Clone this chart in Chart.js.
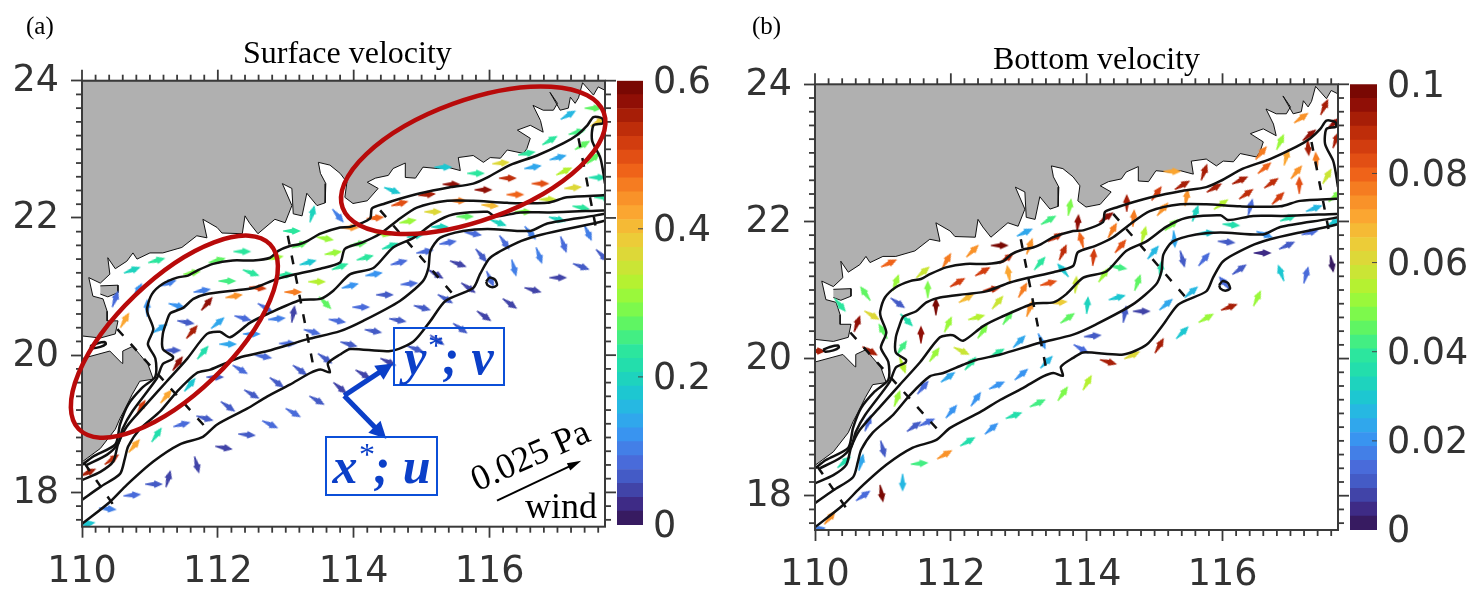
<!DOCTYPE html>
<html>
<head>
<meta charset="utf-8">
<title>Surface and bottom velocity</title>
<script src="https://cdn.jsdelivr.net/npm/chart.js@4"></script>
<style>
  body { margin: 0; background: #fff; width: 1468px; height: 593px; overflow: hidden; position: relative; }
  canvas { position: absolute; top: 0; }
  .txt { position: absolute; font-family: "Liberation Serif", serif; color: #000; white-space: nowrap; line-height: 1; }
  .box { position: absolute; border: 2px solid #0b4fd8; box-sizing: border-box; font-family: "Liberation Serif", serif; color: #0b3fc8;
         font-size: 50px; font-weight: bold; font-style: italic; text-align: center; white-space: nowrap; }
  .box sup { font-size: 32px; font-weight: normal; line-height: 0; }
</style>
</head>
<body>
<canvas id="panel-a" width="616" height="593" style="left:0"></canvas>
<canvas id="bar-a" width="116" height="593" style="left:612px"></canvas>
<canvas id="panel-b" width="616" height="593" style="left:733px"></canvas>
<canvas id="bar-b" width="123" height="593" style="left:1345px"></canvas>

<div class="txt" style="left:26px;top:13px;font-size:25px">(a)</div>
<div class="txt" style="left:752px;top:13px;font-size:25px">(b)</div>
<div class="txt" style="left:243px;top:36px;font-size:32px">Surface velocity</div>
<div class="txt" style="left:993px;top:42px;font-size:32px">Bottom velocity</div>
<div class="box" style="left:393px;top:327px;width:112px;height:59px;line-height:56px"><span>y</span><sup>*</sup>; v</div>
<div class="box" style="left:325px;top:436px;width:113px;height:60px;line-height:56px"><span>x</span><sup>*</sup>; u</div>
<div class="txt" style="left:530px;top:455px;font-size:36px;transform:translate(-50%,-50%) rotate(-24deg)">0.025 Pa</div>
<div class="txt" style="left:525px;top:488px;font-size:36px">wind</div>

<script>
// axes
const xTicks = [110, 112, 114, 116];
const yTicks = [18, 20, 22, 24];
const xRange = [110, 117.7];
const yRange = [17.5, 24];
const surfaceBarTicks = [0, 0.2, 0.4, 0.6];
const bottomBarTicks = [0, 0.02, 0.04, 0.06, 0.08, 0.1];

// land outline [lon, lat]
const mainland = [[110,24],[117.7,24],[117.7,23.86],[117.6,23.91],[117.53,23.79],[117.37,23.97],[117.31,23.75],[117.26,23.67],[117.19,23.76],[117.16,23.6],[117.04,23.57],[116.89,23.83],[117,23.67],[116.94,23.57],[116.79,23.57],[116.64,23.64],[116.75,23.42],[116.79,23.25],[116.6,23.35],[116.41,23.28],[116.6,23.16],[116.55,23.01],[116.5,22.94],[116.26,22.99],[116.16,22.87],[116.01,22.88],[115.91,22.81],[115.76,22.91],[115.54,22.88],[115.57,22.69],[115.38,22.74],[115.23,22.72],[115.02,22.74],[114.91,22.58],[114.76,22.59],[114.76,22.8],[114.58,22.72],[114.51,22.62],[114.32,22.58],[114.2,22.52],[114.36,22.43],[114.2,22.25],[113.99,22.21],[113.87,22.3],[113.9,22.52],[113.8,22.65],[113.65,22.77],[113.48,22.81],[113.51,22.65],[113.59,22.5],[113.58,22.22],[113.46,22.18],[113.31,22.36],[113.24,22.03],[113.11,22.06],[113.09,22.43],[112.95,22.5],[113.09,22.18],[112.99,21.93],[112.84,21.98],[112.59,21.77],[112.47,21.92],[112.4,22.03],[112.36,21.77],[112.06,21.78],[111.99,21.86],[111.78,21.98],[111.84,21.71],[111.69,21.74],[111.47,21.57],[111.4,21.55],[111.19,21.49],[111,21.49],[110.81,21.4],[110.75,21.49],[110.66,21.37],[110.49,21.26],[110.38,21.42],[110.41,21.18],[110.27,21.05],[110.1,21.13],[110.16,20.86],[110.31,20.82],[110.37,20.64],[110.37,20.5],[110.53,20.5],[110.49,20.31],[110.27,20.25],[110,20.28]];
const hainan = [[110,19.95],[110.41,20.06],[110.59,19.88],[110.6,20.06],[110.75,20.13],[110.85,20.01],[110.97,19.87],[111.05,19.65],[110.85,19.62],[110.74,19.43],[110.63,19.21],[110.56,19.08],[110.49,18.92],[110.27,18.64],[110.01,18.45],[110,18.4]];
const islet = [[110.27,21.01],[110.53,21.02],[110.53,20.91],[110.38,20.85],[110.27,20.89]];

// isobaths
const contourA = [[110,18.4],[110.16,18.52],[110.49,18.7],[110.56,18.99],[110.68,19.28],[110.88,19.52],[111.08,19.69],[111.08,19.95],[110.97,20.16],[111.05,20.38],[110.97,20.6],[110.96,20.69],[111.03,20.89],[111.19,21.04],[111.4,21.13],[111.56,21.16],[111.69,21.23],[111.93,21.33],[112.22,21.38],[112.52,21.38],[112.77,21.42],[112.89,21.52],[113.06,21.59],[113.21,21.62],[113.33,21.67],[113.51,21.77],[113.8,21.86],[113.95,21.87],[114.24,21.99],[114.27,22.14],[114.46,22.21],[114.68,22.28],[114.98,22.36],[115.38,22.44],[115.76,22.5],[115.97,22.59],[116.3,22.77],[116.7,22.91],[117.09,23.09],[117.29,23.21],[117.44,23.35],[117.53,23.47],[117.66,23.45],[117.67,23.38],[117.53,23.35],[117.51,23.13],[117.63,22.88],[117.67,22.69],[117.7,22.5]];
const contourB = [[110.07,18.4],[110.37,18.55],[110.53,18.71],[110.6,18.93],[110.74,19.18],[111.1,19.66],[111.19,19.87],[111.33,19.94],[111.34,19.98],[111.19,20.09],[111.19,20.31],[111.25,20.5],[111.3,20.61],[111.49,20.69],[111.64,20.82],[111.84,20.89],[112.22,20.94],[112.52,20.98],[112.87,21.11],[113.14,21.18],[113.51,21.26],[113.8,21.35],[113.87,21.55],[114.12,21.64],[114.39,21.77],[114.64,21.96],[114.93,22.15],[115.38,22.25],[115.76,22.25],[116.26,22.22],[116.85,22.22],[117.14,22.3],[117.67,22.33],[117.7,22.33]];
const contourC = [[110,18.18],[110.27,18.3],[110.46,18.45],[110.53,18.7],[110.66,18.96],[110.96,19.3],[111.25,19.62],[111.55,19.95],[111.84,20.31],[112.03,20.34],[112.18,20.26],[112.47,20.47],[112.73,20.6],[113.21,20.8],[113.51,20.82],[113.7,20.94],[113.95,21.18],[114.29,21.27],[114.58,21.57],[114.88,21.71],[115.17,21.92],[115.46,22.05],[115.97,22.09],[116.08,22.02],[116.45,22.08],[116.89,22.08],[117.67,22.11],[117.7,22.11]];
const contourD = [[110,17.89],[110.27,18.08],[110.56,18.27],[110.63,18.49],[110.68,18.67],[110.85,18.92],[111.15,19.18],[111.4,19.47],[111.69,19.74],[111.89,19.79],[112.18,19.91],[112.37,19.98],[112.73,20.06],[113.31,20.23],[113.8,20.35],[114.14,20.5],[114.68,20.79],[115.02,21.08],[115.1,21.27],[115.13,21.52],[115.27,21.71],[115.61,21.81],[115.97,21.84],[116.6,21.81],[116.85,21.92],[117.53,22.03],[117.7,22.06]];
const contourE = [[110,17.54],[110.41,17.86],[110.66,18.11],[111.05,18.45],[111.44,18.7],[111.78,18.81],[111.99,18.99],[112.43,19.22],[112.73,19.4],[113.06,19.57],[113.36,19.74],[113.51,19.79],[113.65,19.75],[113.62,19.88],[113.8,20.01],[113.95,20.09],[114.54,20.06],[114.88,20.2],[115.13,20.5],[115.35,20.79],[115.76,20.98],[115.86,21.18],[116.01,21.42],[116.41,21.64],[116.7,21.74],[117.14,21.84],[117.53,21.92],[117.7,21.96]];
const loopStrait = [[110.12,20.13],[110.22,20.17],[110.34,20.19],[110.35,20.16],[110.27,20.12],[110.15,20.1],[110.12,20.13]];
const loopShelf = [[115.95,21.07],[116,21.13],[116.08,21.1],[116.11,21.02],[116.04,20.99],[115.97,21.02],[115.95,21.07]];

// dashed cross-shelf transects
const transects = [
  [[110.04,18.42],[110.46,17.82]],
  [[110.52,20.38],[111.81,18.96]],
  [[113.03,21.74],[113.4,19.87]],
  [[114.39,22.11],[115.46,20.89]],
  [[117.31,23.16],[117.56,21.89]]
];

// velocity arrows [lon, lat, direction in degrees ccw from east, speed]
const surfaceArrows = [[110.74,21.24,20,.2],[111.1,21.38,15,.23],[111.99,21.38,15,.28],[112.36,21.51,0,.24],[113.09,21.81,0,.23],[113.39,22.06,75,.2],[111.62,21.2,10,.29],[111.27,21.05,20,.1],[112.49,21.2,-20,.23],[112.84,21.42,10,.3],[113.21,21.61,20,.28],[113.58,21.7,-10,.3],[113.7,21.49,10,.3],[112.14,21.08,0,.25],[112.99,21.17,5,.23],[113.33,21.35,15,.18],[113.46,21.07,0,.33],[111.77,20.94,10,.11],[112.59,20.98,-5,.51],[113.11,20.92,0,.45],[112.24,20.86,10,.44],[111.84,20.75,50,.57],[111.4,20.72,-15,.13],[113.58,20.76,-45,.27],[112.7,20.69,-30,.09],[113.11,20.6,80,.05],[112.37,20.54,-15,.08],[112.87,20.53,5,.1],[110.49,20.82,70,.08],[110.82,20.94,60,.13],[110.96,20.69,90,.13],[110.63,20.51,60,.43],[111.15,20.39,30,.14],[111.53,20.48,-10,.06],[111.62,20.34,50,.56],[112,20.47,40,.14],[111.33,20.07,0,.06],[111.41,19.88,55,.57],[111.78,20.04,50,.22],[112.15,20.16,0,.14],[112.5,20.31,0,.13],[113.03,20.17,0,.08],[112.67,19.98,-10,.08],[113.39,20.34,-15,.08],[113.76,20.5,-10,.08],[112.33,19.79,-30,.08],[111.96,19.68,0,.07],[111.59,19.57,50,.17],[111.24,19.4,50,.42],[110.87,19.24,60,.51],[111.81,19.08,-15,.06],[111.47,18.99,15,.08],[111.1,18.84,55,.22],[110.77,18.68,50,.43],[110.44,18.48,35,.53],[110.09,18.29,25,.55],[111.69,18.4,-75,.05],[112.09,18.65,-10,.05],[112.43,18.84,-5,.07],[112.77,18.99,-25,.08],[113.11,19.16,-30,.08],[113.46,19.34,-30,.07],[112.5,19.43,-30,.07],[112.15,19.25,-35,.06],[112.87,19.6,-35,.07],[113.21,19.78,-35,.07],[113.58,19.95,-35,.06],[111.27,18.2,75,.04],[111.06,18.12,0,.07],[110.74,17.96,5,.08],[110.38,17.76,-5,.1],[110.07,17.54,10,.18],[113.8,19.52,-40,.05],[114.11,20.7,0,.08],[115.01,20.69,-15,.07],[114.65,20.51,-10,.07],[114.29,20.35,-10,.07],[113.93,20.16,-15,.06],[115.92,20.57,-35,.05],[115.57,20.39,-35,.06],[115.23,20.22,-35,.07],[114.91,20.09,-20,.07],[114.51,19.9,-25,.05],[114.14,19.72,-30,.05],[116.3,20.75,-35,.05],[117.16,23.5,30,.16],[117.53,23.6,0,.28],[117.29,23.25,15,.26],[116.89,23.13,30,.23],[117.37,23.06,30,.28],[117.6,23.4,30,.39],[117.53,22.87,40,.27],[116.55,22.94,10,.24],[117.01,22.88,15,.14],[116.64,22.74,10,.14],[117.1,22.68,25,.33],[116.17,22.8,5,.36],[115.8,22.65,0,.24],[116.27,22.58,0,.54],[116.75,22.5,0,.49],[117.59,22.59,0,.22],[117.23,22.44,5,.36],[115.32,22.74,0,.17],[115.44,22.49,0,.57],[115.91,22.41,0,.57],[116.38,22.34,0,.48],[115.08,22.34,5,.56],[114.57,22.4,-20,.18],[116.86,22.27,0,.35],[117.67,22.3,0,.24],[115.54,22.25,0,.45],[116.01,22.18,-5,.4],[114.68,22.21,15,.49],[115.17,22.09,0,.36],[116.5,22.09,0,.29],[117.35,22.15,-10,.23],[114.32,22,5,.47],[115.64,22.02,0,.27],[114.8,21.95,10,.31],[116.13,21.93,-20,.2],[117,21.98,-15,.19],[113.95,21.86,0,.44],[115.27,21.87,0,.19],[113.77,22.03,-50,.1],[114.43,21.77,-10,.3],[114.91,21.74,10,.19],[115.76,21.77,-10,.09],[116.6,21.78,-50,.1],[117.45,21.78,-65,.1],[114.07,21.62,10,.28],[115.39,21.64,10,.08],[114.54,21.59,20,.22],[116.22,21.64,-55,.08],[117.09,21.61,-70,.09],[114.17,21.42,15,.24],[115.05,21.51,10,.08],[116.73,21.45,-70,.1],[115.88,21.45,-50,.07],[117.66,21.45,-45,.06],[113.8,21.29,20,.23],[114.67,21.35,15,.08],[115.54,21.33,-20,.05],[116.36,21.27,-75,.1],[117.35,21.29,-20,.06],[114.3,21.18,10,.12],[115.21,21.18,-30,.05],[117.01,21.13,0,.05],[116.01,21.11,-65,.09],[113.95,21.01,15,.13],[114.82,21.04,5,.08],[115.69,20.98,-35,.05],[116.64,20.95,-15,.05],[114.46,20.88,0,.07],[115.35,20.82,-30,.06]];
const bottomArrows = [[111.09,21.39,25,.08],[111.59,21.26,40,.058],[111.19,21.11,70,.05],[111.94,21.43,60,.076],[112.32,21.57,45,.074],[110.74,20.95,125,.045],[111.66,21.01,90,.047],[112.47,21.27,30,.085],[112.1,21.11,30,.086],[111.22,20.81,-35,.012],[110.37,20.78,-50,.04],[112.23,20.88,30,.066],[112.6,21.01,10,.09],[111.78,20.76,90,.097],[112.69,20.82,50,.058],[113.06,21,60,.077],[113.44,21.1,15,.083],[112.85,21.24,100,.07],[113.31,21.39,50,.04],[113.65,21.29,130,.03],[113.65,21.55,65,.088],[113.16,21.64,70,.072],[112.82,21.46,35,.09],[113.54,21.77,30,.088],[113.92,21.73,105,.08],[114.1,21.48,85,.085],[113.87,21.98,85,.095],[114.29,22.06,35,.095],[113.75,22.21,80,.048],[113.44,22.02,30,.042],[113.09,21.84,25,.024],[112.72,21.65,0,.097],[113.84,21.08,85,.058],[114.25,21.22,55,.05],[113.59,20.82,5,.065],[114.01,20.78,85,.033],[113.16,20.73,70,.073],[112.84,20.6,55,.045],[113.72,20.59,35,.046],[110.84,20.63,-30,.06],[110.62,20.51,70,.095],[111,20.4,120,.045],[111.35,20.56,-45,.035],[112.38,20.6,15,.055],[111.96,20.5,65,.052],[112.47,20.4,55,.047],[111.56,20.35,90,.095],[111.28,20.16,55,.042],[110.81,20.11,-30,.093],[110.03,20.11,0,.092],[111.29,19.9,-70,.055],[111.76,20.06,55,.05],[112.16,20.11,-25,.057],[112.68,20.08,30,.04],[113.01,20.25,45,.022],[113.34,20.25,-65,.02],[114.09,20.33,5,.01],[113.92,20.14,-30,.014],[112.29,19.93,50,.038],[111.96,19.73,35,.022],[111.59,19.58,50,.015],[111.21,19.42,70,.05],[113.04,19.77,40,.02],[113.41,19.95,45,.025],[112.68,19.61,25,.02],[112.37,19.41,55,.02],[112.01,19.23,50,.02],[113.28,19.35,25,.042],[113.65,19.49,55,.048],[114.01,19.65,60,.055],[112.93,19.17,20,.037],[112.6,18.98,40,.02],[112.25,18.79,30,.035],[111.91,18.6,30,.072],[111.65,19.07,25,.015],[111.46,19.01,35,.012],[110.78,19.06,70,.015],[111,18.68,-75,.012],[110.68,18.49,75,.022],[110.43,18.49,40,.037],[111.54,18.47,5,.042],[111.29,18.19,-90,.025],[110.98,18.03,-80,.097],[110.71,18,35,.013],[110.22,17.68,50,.072],[110.03,17.51,10,.018],[117.5,23.67,65,.093],[117.16,23.51,35,.072],[117.64,23.43,40,.095],[117.28,23.26,40,.095],[116.85,23.16,65,.052],[117.26,23.08,-85,.093],[117.67,23.19,70,.093],[116.57,23,50,.078],[116.94,22.94,75,.07],[117.38,22.89,95,.078],[116.62,22.78,40,.08],[117.09,22.72,50,.074],[117.54,22.66,60,.058],[115.73,22.72,70,.093],[115.26,22.73,0,.07],[115.41,22.53,30,.092],[115.88,22.49,30,.093],[116.26,22.6,25,.093],[116.72,22.56,35,.09],[117.13,22.53,90,.082],[115.03,22.41,55,.087],[114.59,22.27,90,.093],[116.35,22.4,35,.09],[116.82,22.34,45,.085],[115.47,22.35,80,.072],[115.98,22.25,35,.055],[116.41,22.21,75,.015],[117.66,22.37,40,.047],[117.35,22.19,20,.025],[115.12,22.18,50,.074],[114.69,22.05,85,.078],[115.6,22.12,70,.033],[116.97,22.05,20,.037],[115.25,21.95,40,.048],[116.13,21.95,-5,.037],[117.63,21.98,30,.03],[114.38,21.87,60,.076],[114.84,21.81,75,.055],[115.76,21.83,5,.03],[116.62,21.81,-20,.02],[117.29,21.84,15,.014],[115.29,21.74,-85,.022],[116.06,21.7,-5,.01],[116.95,21.65,25,.01],[114.5,21.64,50,.082],[114.98,21.55,50,.028],[116.59,21.54,0,.005],[115.41,21.45,-75,.01],[115.73,21.45,50,.015],[117.61,21.38,-80,.003],[114.47,21.33,-10,.042],[115.09,21.3,85,.037],[116.25,21.3,35,.01],[116.86,21.25,110,.03],[117.23,21.22,75,.014],[114.75,21.11,70,.046],[116.03,21.1,130,.013],[114.45,20.89,15,.03],[115.54,20.97,40,.028],[116.51,20.88,65,.05],[115.17,20.79,40,.024],[116.1,20.75,20,.093],[114.81,20.69,0,.009],[114.56,20.65,80,.01],[115.76,20.59,30,.05],[115.41,20.38,45,.03],[115.07,20.19,60,.093],[114.67,20.05,25,.06],[114.32,19.95,-15,.093]];

// annotations on panel (a)
const hotspotEllipses = [
  { lon: 111.36, lat: 20.27, a: 133, b: 57, tilt: -44 },
  { lon: 115.76, lat: 22.84, a: 139, b: 60, tilt: -20 }
];
const axisArrows = [
  { from: [113.86, 19.41], to: [114.58, 19.88] },
  { from: [113.86, 19.41], to: [114.48, 18.78] }
];
const windArrow = { from: [116.11, 17.88], to: [117.35, 18.46] };

// colormap
const colorStops = ['#33134f','#3f2d8a','#4356c0','#4a70e0','#3a92f0','#2bb0ea','#1cc8cf','#20dcb0','#2fe89a','#5cf565','#8cfb40','#b8f030','#d8dc38','#f0c838','#fba832','#f88825','#ee6018','#d84210','#b82808','#921006','#6e0402'];
const colorLevels = 32;

function hexToRgb(hex) {
  return [1, 3, 5].map(i => parseInt(hex.slice(i, i + 2), 16));
}

function colorAt(t) {
  const p = Math.min(Math.max(t, 0), 1) * (colorStops.length - 1);
  const i = Math.min(Math.floor(p), colorStops.length - 2);
  const a = hexToRgb(colorStops[i]);
  const b = hexToRgb(colorStops[i + 1]);
  const c = a.map((v, k) => Math.round(v + (b[k] - v) * (p - i)));
  return `rgb(${c[0]},${c[1]},${c[2]})`;
}

// arrow glyph used as point style, cached per colour level
const glyphCache = {};
function arrowGlyph(t) {
  const level = Math.min(Math.floor(t * colorLevels), colorLevels - 1);
  if (glyphCache[level]) return glyphCache[level];
  const c = document.createElement('canvas');
  c.width = 22;
  c.height = 12;
  const g = c.getContext('2d');
  g.fillStyle = colorAt((level + 0.5) / colorLevels);
  g.translate(11, 6);
  g.beginPath();
  g.moveTo(-9, -0.6);
  g.lineTo(0, -2.2);
  g.lineTo(0.5, -3.8);
  g.lineTo(9, 0);
  g.lineTo(0.5, 3.8);
  g.lineTo(0, 2.2);
  g.lineTo(-9, 0.6);
  g.closePath();
  g.fill();
  glyphCache[level] = c;
  return c;
}

const axisColor = '#3a3a3a';
const labelColor = '#333';
const labelFont = { family: 'DejaVu Sans', size: 36.5 };

function lineSet(points, opts) {
  return Object.assign({
    data: points,
    showLine: true,
    pointRadius: 0,
    borderColor: '#111',
    borderWidth: 2.5,
    tension: 0.25,
    order: 2
  }, opts);
}

function landSet(points) {
  return lineSet(points, {
    borderColor: '#111',
    borderWidth: 1,
    tension: 0,
    backgroundColor: '#b0b0b0',
    fill: 'shape',
    order: 5
  });
}

function panelDatasets(arrows, maxSpeed) {
  const sets = [landSet(mainland), landSet(hainan), landSet(islet)];
  [contourA, contourB, contourC, contourD, contourE, loopStrait, loopShelf].forEach(c => sets.push(lineSet(c)));
  transects.forEach(t => sets.push(lineSet(t, { borderDash: [9, 11], tension: 0, order: 1 })));
  sets.push({
    data: arrows,
    showLine: false,
    order: 4,
    pointRadius: 6,
    pointHoverRadius: 6,
    pointStyle: ctx => (ctx.raw ? arrowGlyph(ctx.raw[3] / maxSpeed) : 'circle'),
    pointRotation: ctx => (ctx.raw ? -ctx.raw[2] : 0)
  });
  return sets;
}

// frame, minor ticks and the top/right major ticks
const framePlugin = {
  id: 'frameTicks',
  afterDatasetsDraw(chart) {
    const { ctx, chartArea: area, scales } = chart;
    const stroke = (x1, y1, x2, y2) => {
      ctx.beginPath();
      ctx.moveTo(x1, y1);
      ctx.lineTo(x2, y2);
      ctx.stroke();
    };
    ctx.save();
    ctx.strokeStyle = axisColor;
    ctx.lineWidth = 1.8;
    for (let i = 0; i * 0.2 + xRange[0] < xRange[1]; i++) {
      const px = scales.x.getPixelForValue(xRange[0] + i * 0.2);
      const len = i % 10 === 0 ? 11 : 6;
      stroke(px, area.top, px, area.top - len);
      if (i % 10 !== 0) stroke(px, area.bottom, px, area.bottom + len);
    }
    for (let i = 0; yRange[1] - i * 0.2 > yRange[0]; i++) {
      const py = scales.y.getPixelForValue(yRange[1] - i * 0.2);
      const len = i % 10 === 0 ? 11 : 6;
      stroke(area.right, py, area.right + len, py);
      if (i % 10 !== 0) stroke(area.left, py, area.left - len, py);
    }
    ctx.lineWidth = 2;
    ctx.strokeRect(area.left, area.top, area.right - area.left, area.bottom - area.top);
    ctx.restore();
  }
};

function drawArrow(ctx, x1, y1, x2, y2, width, headLen, headWidth, color) {
  const ang = Math.atan2(y2 - y1, x2 - x1);
  ctx.save();
  ctx.translate(x1, y1);
  ctx.rotate(ang);
  const len = Math.hypot(x2 - x1, y2 - y1);
  ctx.fillStyle = color;
  ctx.fillRect(0, -width / 2, len - headLen + 1, width);
  ctx.beginPath();
  ctx.moveTo(len, 0);
  ctx.lineTo(len - headLen, -headWidth / 2);
  ctx.lineTo(len - headLen, headWidth / 2);
  ctx.closePath();
  ctx.fill();
  ctx.restore();
}

// red ellipses and arrows of panel (a)
const annotationPlugin = {
  id: 'panelAnnotations',
  afterDatasetsDraw(chart) {
    const { ctx, scales } = chart;
    const px = p => [scales.x.getPixelForValue(p[0]), scales.y.getPixelForValue(p[1])];
    ctx.save();
    ctx.strokeStyle = '#b80a0a';
    ctx.lineWidth = 4.5;
    hotspotEllipses.forEach(e => {
      const [cx, cy] = px([e.lon, e.lat]);
      ctx.beginPath();
      ctx.ellipse(cx, cy, e.a, e.b, e.tilt * Math.PI / 180, 0, Math.PI * 2);
      ctx.stroke();
    });
    ctx.restore();
    axisArrows.forEach(a => {
      const [x1, y1] = px(a.from);
      const [x2, y2] = px(a.to);
      drawArrow(ctx, x1, y1, x2, y2, 5, 17, 17, '#0b3fc8');
    });
    const [wx1, wy1] = px(windArrow.from);
    const [wx2, wy2] = px(windArrow.to);
    drawArrow(ctx, wx1, wy1, wx2, wy2, 2, 14, 8, '#000');
  }
};

function makePanel(id, arrows, maxSpeed, top, bottomGap, plugins) {
  new Chart(document.getElementById(id), {
    type: 'scatter',
    data: { datasets: panelDatasets(arrows, maxSpeed) },
    plugins: plugins,
    options: {
      responsive: false,
      animation: false,
      devicePixelRatio: 1,
      layout: { autoPadding: false, padding: { top: top, right: 11, left: 0, bottom: 0 } },
      plugins: { legend: { display: false }, tooltip: { enabled: false } },
      events: [],
      scales: {
        x: {
          type: 'linear',
          min: xRange[0],
          max: xRange[1],
          afterBuildTicks: s => { s.ticks = xTicks.map(v => ({ value: v })); },
          afterFit: s => { s.height = bottomGap; },
          border: { display: false },
          grid: { drawOnChartArea: false, tickLength: 11, tickColor: axisColor, tickWidth: 1.8 },
          ticks: { color: labelColor, font: labelFont, padding: 13, maxRotation: 0, autoSkip: false, callback: v => String(v) }
        },
        y: {
          type: 'linear',
          min: yRange[0],
          max: yRange[1],
          afterBuildTicks: s => { s.ticks = yTicks.map(v => ({ value: v })); },
          afterFit: s => { s.width = 82; },
          border: { display: false },
          grid: { drawOnChartArea: false, tickLength: 11, tickColor: axisColor, tickWidth: 1.8 },
          ticks: { color: labelColor, font: labelFont, padding: 12, labelOffset: 1, autoSkip: false, callback: v => String(v) }
        }
      }
    }
  });
}

// colour bar: stacked bars, one per colour level
function makeColorBar(id, maxValue, tickValues, top, bottomGap, axisWidth) {
  const datasets = [];
  for (let i = 0; i < colorLevels; i++) {
    datasets.push({
      data: [maxValue / colorLevels],
      backgroundColor: colorAt((i + 0.5) / colorLevels),
      borderWidth: 0,
      barPercentage: 1,
      categoryPercentage: 1,
      stack: 'bar'
    });
  }
  new Chart(document.getElementById(id), {
    type: 'bar',
    data: { labels: ['level'], datasets: datasets },
    plugins: [{
      id: 'innerTicks',
      afterDatasetsDraw(chart) {
        const { ctx, chartArea: area, scales } = chart;
        ctx.save();
        ctx.strokeStyle = '#444';
        ctx.lineWidth = 1;
        tickValues.slice(1, -1).forEach(v => {
          const py = scales.y.getPixelForValue(v);
          ctx.beginPath();
          ctx.moveTo(area.right - 5, py);
          ctx.lineTo(area.right, py);
          ctx.stroke();
        });
        ctx.restore();
      }
    }],
    options: {
      responsive: false,
      animation: false,
      devicePixelRatio: 1,
      events: [],
      layout: { autoPadding: false, padding: { top: top, bottom: bottomGap, left: 5, right: 0 } },
      plugins: { legend: { display: false }, tooltip: { enabled: false } },
      scales: {
        x: { display: false, stacked: true },
        y: {
          position: 'right',
          stacked: true,
          min: 0,
          max: maxValue,
          afterBuildTicks: s => { s.ticks = tickValues.map(v => ({ value: v })); },
          afterFit: s => { s.width = axisWidth; },
          border: { display: false },
          grid: { display: false, drawTicks: false },
          ticks: { color: labelColor, font: labelFont, padding: 10, labelOffset: 3, autoSkip: false, callback: v => String(v) }
        }
      }
    }
  });
}

makePanel('panel-a', surfaceArrows, 0.6, 80.7, 66.3, [framePlugin, annotationPlugin]);
makePanel('panel-b', bottomArrows, 0.1, 84.3, 63, [framePlugin]);
makeColorBar('bar-a', 0.6, surfaceBarTicks, 80.7, 68, 85);
makeColorBar('bar-b', 0.1, bottomBarTicks, 84.3, 63, 91);
</script>
</body>
</html>
